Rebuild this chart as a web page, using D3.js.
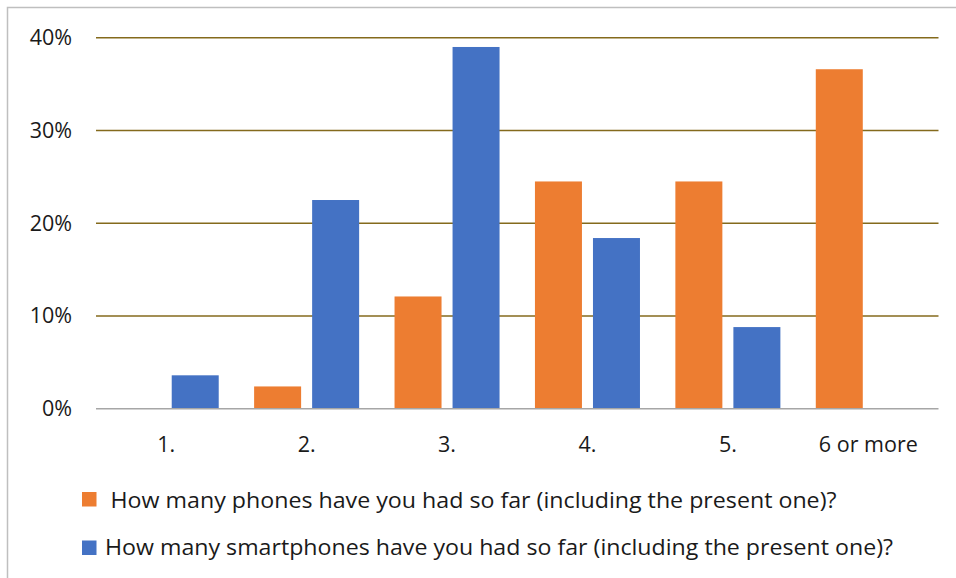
<!DOCTYPE html>
<html>
<head>
<meta charset="utf-8">
<script src="https://cdn.jsdelivr.net/npm/d3@7"></script>
<style>
  html, body { margin: 0; padding: 0; background: #fff; }
  svg { display: block; }
</style>
</head>
<body>
<svg id="chart" width="956" height="578"></svg>
<script>
// Survey answers: share of respondents by number of devices owned
const categories = ["1.", "2.", "3.", "4.", "5.", "6 or more"];
const seriesNames = [
  "How many phones have you had so far (including the present one)?",
  "How many smartphones have you had so far (including the present one)?"
];
const phonesValues = [0, 0.024, 0.121, 0.245, 0.245, 0.366];
const smartphonesValues = [0.036, 0.225, 0.390, 0.184, 0.088, 0];
const yTicks = [0, 0.1, 0.2, 0.3, 0.4];
const seriesColors = ["#ED7D31", "#4472C4"];

const seriesValues = [phonesValues, smartphonesValues];

const svg = d3.select("#chart");

// Chart frame
svg.append("rect")
  .attr("x", 7.5).attr("y", 7.5)
  .attr("width", 960).attr("height", 600)
  .attr("fill", "#fff")
  .attr("stroke", "#bfbfbf")
  .attr("stroke-width", 1.5);

const plot = { left: 96, right: 938.5, top: 37.7, bottom: 408.7 };

const x = d3.scaleBand()
  .domain(categories)
  .range([plot.left, plot.right])
  .paddingInner(0).paddingOuter(0);

const bw = x.bandwidth();
const x1 = d3.scaleBand()
  .domain(d3.range(seriesNames.length))
  .range([17.7, bw - 17.7])
  .paddingInner(0.19).paddingOuter(0);

const y = d3.scaleLinear().domain([0, 0.4]).range([plot.bottom, plot.top]);

const labelFont = "'Open Sans', sans-serif";

// Horizontal gridlines
svg.append("g")
  .selectAll("line")
  .data(yTicks.filter(t => t > 0))
  .join("line")
  .attr("x1", plot.left).attr("x2", plot.right)
  .attr("y1", d => y(d)).attr("y2", d => y(d))
  .attr("stroke", "#846a1c")
  .attr("stroke-width", 1.5);

// Y axis labels
const yAxis = d3.axisLeft(y)
  .tickValues(yTicks)
  .tickFormat(d3.format(".0%"))
  .tickSize(0)
  .tickPadding(0);

const yg = svg.append("g")
  .attr("transform", `translate(${72},0)`)
  .call(yAxis);
yg.select(".domain").remove();
yg.selectAll("text")
  .attr("font-family", labelFont)
  .attr("font-size", 21.5)
  .attr("fill", "#1a1a1a");

// Bars
const groups = svg.append("g")
  .selectAll("g")
  .data(categories)
  .join("g")
  .attr("transform", d => `translate(${x(d)},0)`);

groups.selectAll("rect")
  .data((c, i) => seriesValues.map((vals, s) => ({ s, v: vals[i] })))
  .join("rect")
  .filter(d => d.v > 0)
  .attr("x", d => x1(d.s))
  .attr("width", x1.bandwidth())
  .attr("y", d => y(d.v))
  .attr("height", d => y(0) - y(d.v))
  .attr("fill", d => seriesColors[d.s]);

// Baseline
svg.append("line")
  .attr("x1", plot.left).attr("x2", plot.right)
  .attr("y1", y(0)).attr("y2", y(0))
  .attr("stroke", "#a6a6a6")
  .attr("stroke-width", 1.5);

// X axis labels
const xAxis = d3.axisBottom(x).tickSize(0).tickPadding(0);
const xg = svg.append("g")
  .attr("transform", `translate(0,${436.5})`)
  .call(xAxis);
xg.select(".domain").remove();
xg.selectAll("text")
  .attr("font-family", labelFont)
  .attr("font-size", 21.5)
  .attr("fill", "#1a1a1a");

// Legend
const legendRows = [
  { sx: 82, sy: 492, tx: 110.5, ty: 508.3, w: 726 },
  { sx: 82, sy: 540.5, tx: 105, ty: 555.3, w: 788 }
];
const legend = svg.append("g")
  .selectAll("g")
  .data(seriesNames)
  .join("g");

legend.append("rect")
  .attr("x", (d, i) => legendRows[i].sx)
  .attr("y", (d, i) => legendRows[i].sy)
  .attr("width", 14.5).attr("height", 14.5)
  .attr("fill", (d, i) => seriesColors[i]);

legend.append("text")
  .attr("x", (d, i) => legendRows[i].tx)
  .attr("y", (d, i) => legendRows[i].ty)
  .attr("textLength", (d, i) => legendRows[i].w)
  .attr("lengthAdjust", "spacingAndGlyphs")
  .attr("font-family", labelFont)
  .attr("font-size", 21)
  .attr("fill", "#1a1a1a")
  .text(d => d);
</script>
</body>
</html>
